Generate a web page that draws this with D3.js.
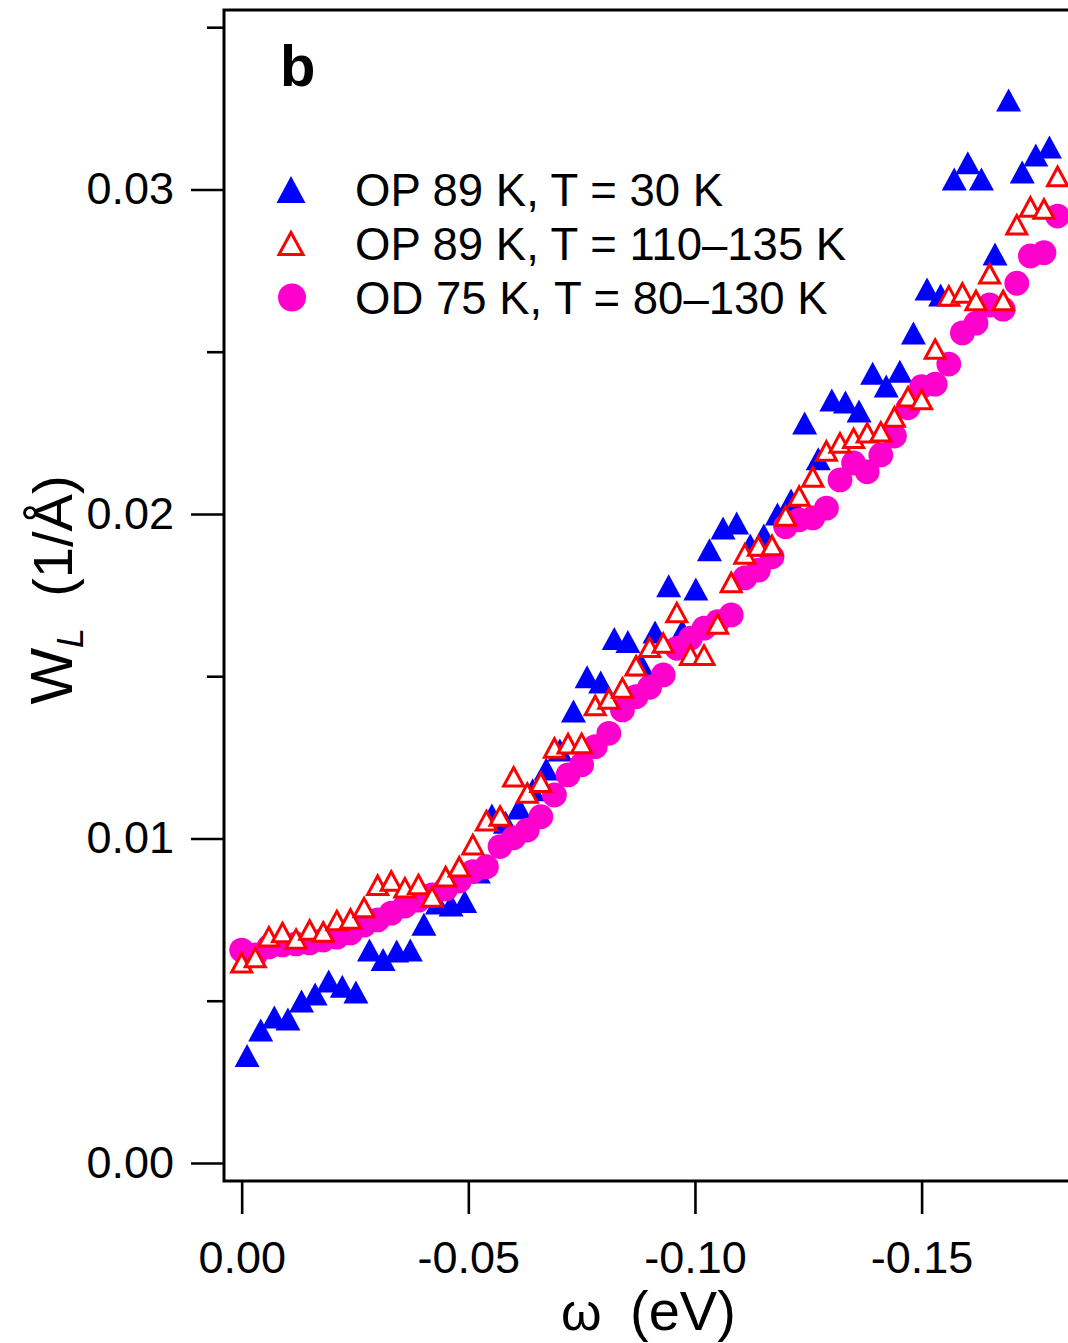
<!DOCTYPE html>
<html>
<head>
<meta charset="utf-8">
<script src="https://cdn.jsdelivr.net/npm/d3@7"></script>
<style>
  html, body { margin: 0; padding: 0; background: #fff; }
  svg { display: block; }
  text { font-family: "Liberation Sans", Arial, sans-serif; fill: #000; }
</style>
</head>
<body>
<svg id="chart" width="1068" height="1343"></svg>
<script>
// ---- data (omega in eV, W_L in 1/Å) ----
const omegaOP30 = [-0.0012,-0.0042,-0.0072,-0.0102,-0.0132,-0.0162,-0.0192,-0.0222,-0.0252,-0.0282,
  -0.0312,-0.0342,-0.0372,-0.0402,-0.0432,-0.0462,-0.0492,-0.0522,-0.0552,-0.0582,
  -0.0612,-0.0642,-0.0672,-0.0702,-0.0732,-0.0762,-0.0792,-0.0822,-0.0852,-0.0882,
  -0.0912,-0.0942,-0.0972,-0.1002,-0.1032,-0.1062,-0.1092,-0.1122,-0.1152,-0.1182,
  -0.1212,-0.1242,-0.1272,-0.1302,-0.1332,-0.1362,-0.1392,-0.1422,-0.1452,-0.1482,
  -0.1512,-0.1542,-0.1572,-0.1602,-0.1632,-0.1662,-0.1692,-0.1722,-0.1752,-0.1782];
const wOP30 = [0.00331,0.0041,0.0045,0.00444,0.00499,0.00521,0.00561,0.00545,0.00527,0.00656,
  0.00627,0.00653,0.00656,0.00736,0.00801,0.00795,0.00806,0.00897,0.01072,0.0105,
  0.01094,0.0115,0.01214,0.01273,0.01393,0.01498,0.01482,0.01616,0.01607,0.01535,
  0.01636,0.01779,0.0164,0.01769,0.0189,0.01957,0.01972,0.01904,0.01935,0.02,
  0.02043,0.0228,0.0217,0.02351,0.02345,0.02317,0.02434,0.02394,0.0244,0.02558,
  0.02693,0.02675,0.03032,0.03082,0.03032,0.02801,0.03276,0.03054,0.03106,0.03131];

const omegaHigh = [0.000,-0.003,-0.006,-0.009,-0.012,-0.015,-0.018,-0.021,-0.024,-0.027,
  -0.030,-0.033,-0.036,-0.039,-0.042,-0.045,-0.048,-0.051,-0.054,-0.057,
  -0.060,-0.063,-0.066,-0.069,-0.072,-0.075,-0.078,-0.081,-0.084,-0.087,
  -0.090,-0.093,-0.096,-0.099,-0.102,-0.105,-0.108,-0.111,-0.114,-0.117,
  -0.120,-0.123,-0.126,-0.129,-0.132,-0.135,-0.138,-0.141,-0.144,-0.147,
  -0.150,-0.153,-0.156,-0.159,-0.162,-0.165,-0.168,-0.171,-0.174,-0.177,-0.180];
const wOPhigh = [0.00617,0.00633,0.00697,0.0071,0.0069,0.00718,0.00712,0.00747,0.00752,0.00787,
  0.00856,0.00869,0.00848,0.00858,0.0082,0.00882,0.00913,0.00981,0.01055,0.01069,
  0.0119,0.0114,0.01173,0.01279,0.01292,0.01293,0.0141,0.0143,0.01464,0.01532,
  0.01589,0.01602,0.01696,0.01565,0.01565,0.01661,0.01789,0.01877,0.01901,0.01903,
  0.01994,0.02055,0.02114,0.02194,0.02219,0.02233,0.0225,0.02253,0.02299,0.02361,
  0.02353,0.02508,0.02672,0.02681,0.02658,0.0274,0.02658,0.02891,0.02946,0.0294,0.0304];
const wOD = [0.00656,0.00641,0.00666,0.00672,0.00675,0.00678,0.00687,0.00696,0.00709,0.00733,
  0.00749,0.0077,0.00792,0.0081,0.00826,0.00844,0.00869,0.00898,0.00913,0.00975,
  0.01002,0.01026,0.01067,0.01134,0.01196,0.01227,0.01283,0.01324,0.01396,0.01437,
  0.01466,0.01504,0.01586,0.01617,0.01648,0.01668,0.01689,0.01803,0.01827,0.01868,
  0.01961,0.01982,0.01988,0.02018,0.02105,0.02157,0.0213,0.02182,0.0224,0.02327,
  0.02392,0.024,0.02462,0.02558,0.02588,0.02644,0.02631,0.02711,0.02795,0.02805,0.02918];

const seriesLabels = ["OP 89 K, T = 30 K", "OP 89 K, T = 110\u2013135 K", "OD 75 K, T = 80\u2013130 K"];
const xTicks = [0, -0.05, -0.10, -0.15];
const yTicks = [0, 0.01, 0.02, 0.03];
const yMinorTicks = [0.005, 0.015, 0.025, 0.035];

// ---- layout ----
const svg = d3.select("#chart");
const L = 224, T = 10, R = 1068, B = 1181;
const x = d3.scaleLinear().domain([0.0039, -0.1823]).range([L, R]);
const y = d3.scaleLinear().domain([-0.000555, 0.03553]).range([B, T]);

const BLUE = "#0000ff", RED = "#ff0000", MAG = "#ff00cc";
const tri = (w, h) => `M0,${-h/2}L${w/2},${h/2}L${-w/2},${h/2}Z`;

// axes
const fmt = d => (Math.abs(d) < 1e-12 ? 0 : d).toFixed(2);
const yAxis = svg.append("g").attr("transform", `translate(${L},0)`)
  .call(d3.axisLeft(y).tickValues(yTicks).tickSize(33).tickPadding(17).tickFormat(fmt));
const yMinor = svg.append("g").attr("transform", `translate(${L},0)`)
  .call(d3.axisLeft(y).tickValues(yMinorTicks).tickSize(17).tickFormat(""));
const xAxis = svg.append("g").attr("transform", `translate(0,${B})`)
  .call(d3.axisBottom(x).tickValues(xTicks).tickSize(33).tickPadding(27).tickFormat(fmt));
[yAxis, yMinor, xAxis].forEach(g => {
  g.select(".domain").remove();
  g.selectAll(".tick line").attr("stroke", "#000").attr("stroke-width", 2.6);
  g.selectAll(".tick text").attr("font-size", 45)
    .attr("font-family", "'Liberation Sans', Arial, sans-serif").attr("fill", "#000");
});

// frame (right edge outside the picture)
svg.append("rect").attr("x", L).attr("y", T).attr("width", R - L + 10).attr("height", B - T)
  .attr("fill", "none").attr("stroke", "#000").attr("stroke-width", 3);

// data marks
const gPlot = svg.append("g");
gPlot.selectAll("path.op30").data(wOP30).join("path").attr("class", "op30")
  .attr("d", tri(25, 23))
  .attr("transform", (d, i) => `translate(${x(omegaOP30[i])},${y(d)})`)
  .attr("fill", BLUE);
gPlot.selectAll("circle.od").data(wOD).join("circle").attr("class", "od")
  .attr("cx", (d, i) => x(omegaHigh[i])).attr("cy", d => y(d)).attr("r", 12.4)
  .attr("fill", MAG);
gPlot.selectAll("path.ophigh").data(wOPhigh).join("path").attr("class", "ophigh")
  .attr("d", tri(20, 18.5))
  .attr("transform", (d, i) => `translate(${x(omegaHigh[i])},${y(d)})`)
  .attr("fill", "#fff").attr("stroke", RED).attr("stroke-width", 3);

// panel label
svg.append("text").attr("x", 280).attr("y", 86).attr("font-size", 58)
  .attr("font-weight", "bold").text("b");

// legend
const legY = [189.5, 243.5, 297.5];
const leg = svg.append("g");
leg.append("path").attr("d", tri(29, 27)).attr("transform", `translate(291,${legY[0]})`).attr("fill", BLUE);
leg.append("path").attr("d", tri(24, 22)).attr("transform", `translate(291,${legY[1]})`)
  .attr("fill", "#fff").attr("stroke", RED).attr("stroke-width", 3);
leg.append("circle").attr("cx", 292).attr("cy", legY[2]).attr("r", 14).attr("fill", MAG);
seriesLabels.forEach((s, i) => {
  leg.append("text").attr("x", 355).attr("y", legY[i] + 16).attr("font-size", 45.5).text(s);
});

// x axis title
svg.append("text").attr("x", 561).attr("y", 1330).attr("font-size", 52)
  .attr("font-family", "'Liberation Serif', 'Times New Roman', serif").text("\u03c9");
svg.append("text").attr("x", 630).attr("y", 1330).attr("font-size", 56).text("(eV)");

// y axis title
const yt = svg.append("text").attr("transform", "translate(72,590) rotate(-90)")
  .attr("text-anchor", "middle").attr("font-size", 56).attr("xml:space", "preserve");
yt.append("tspan").attr("font-size", 60).text("W");
yt.append("tspan").attr("font-size", 36).attr("font-style", "italic").attr("dy", 11).text("L");
yt.append("tspan").attr("dy", -11).text("\u00a0\u00a0(1/\u00c5)");
</script>
</body>
</html>
